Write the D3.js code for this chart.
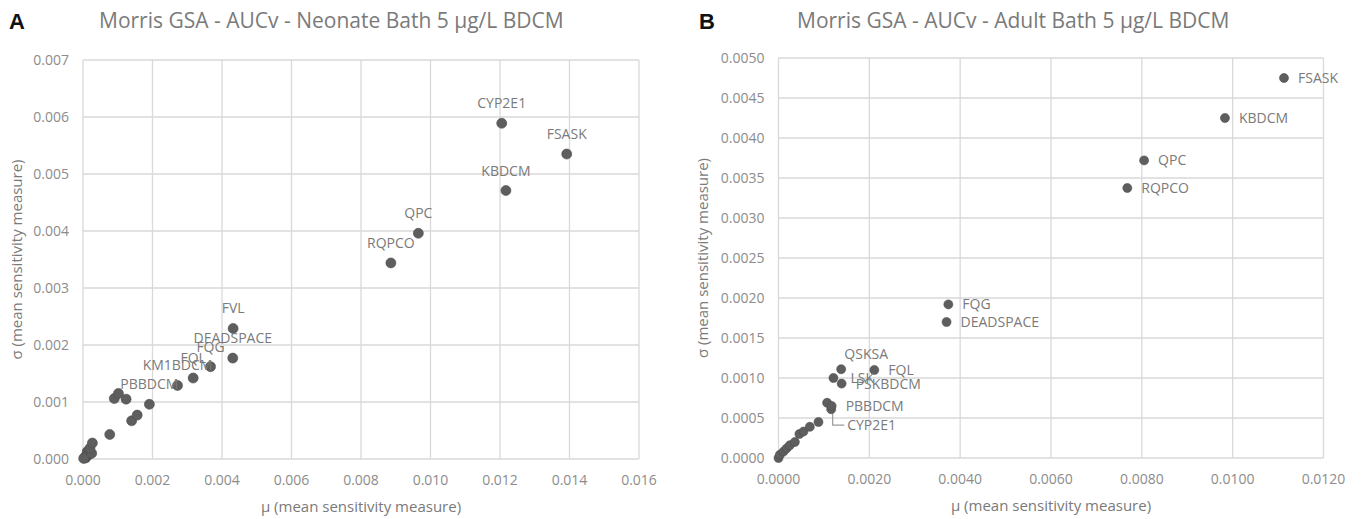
<!DOCTYPE html>
<html>
<head>
<meta charset="utf-8">
<script src="https://cdn.jsdelivr.net/npm/d3@7"></script>
<style>
  body { margin: 0; background: #fff; }
  text { font-family: "Open Sans", sans-serif; }
</style>
</head>
<body>
<svg id="chart" width="1366" height="519"></svg>
<script>
// Panel A - neonate
var namesA = ["CYP2E1", "FSASK", "KBDCM", "QPC", "RQPCO", "FVL", "DEADSPACE", "FQG", "FQL", "KM1BDCM", "PBBDCM",
    "", "", "", "", "", "", "", "", "", "", "", "", "", "", "", ""];
var muA = [0.01205, 0.01392, 0.01217, 0.00965, 0.00886, 0.00432, 0.00431, 0.00367, 0.00317, 0.00272, 0.00191,
    0.00102, 0.00090, 0.00124, 0.00156, 0.00140, 0.00077, 0.00027, 0.00020, 0.00025,
    0.00002, 0.00005, 0.00010, 0.00015, 0.00008, 0.00018, 0.00012];
var sigmaA = [0.00589, 0.00535, 0.00471, 0.00396, 0.00344, 0.00229, 0.00177, 0.00162, 0.00142, 0.00129, 0.00096,
    0.00115, 0.00106, 0.00105, 0.00077, 0.00067, 0.00043, 0.00028, 0.00019, 0.00010,
    0.00001, 0.00003, 0.00006, 0.00010, 0.00002, 0.00008, 0.00013];
var xTicksA = [0, 0.002, 0.004, 0.006, 0.008, 0.010, 0.012, 0.014, 0.016];
var yTicksA = [0, 0.001, 0.002, 0.003, 0.004, 0.005, 0.006, 0.007];

// Panel B - adult
var namesB = ["FSASK", "KBDCM", "QPC", "RQPCO", "FQG", "DEADSPACE", "QSKSA", "FQL", "LSK", "PSKBDCM", "PBBDCM", "CYP2E1",
    "", "", "", "", "", "", "", "", "", "", ""];
var muB = [0.01113, 0.00983, 0.00805, 0.00768, 0.00374, 0.00370, 0.00138, 0.00211, 0.00121, 0.00139, 0.00117, 0.00116,
    0.00107, 0.00088, 0.00069, 0.00055, 0.00046, 0.00036, 0.00025, 0.00018, 0.00011, 0.00003, 0.00000];
var sigmaB = [0.00475, 0.00425, 0.00372, 0.003375, 0.00192, 0.00170, 0.00111, 0.00110, 0.00100, 0.00093, 0.00065, 0.00061,
    0.00069, 0.00045, 0.00039, 0.00033, 0.00030, 0.00020, 0.00016, 0.00012, 0.00008, 0.00004, 0.00000];
var xTicksB = [0, 0.002, 0.004, 0.006, 0.008, 0.010, 0.012];
var yTicksB = [0, 0.0005, 0.001, 0.0015, 0.002, 0.0025, 0.003, 0.0035, 0.004, 0.0045, 0.005];

var svg = d3.select("#chart");
var grid = "#d9d9d9", tickCol = "#8c8c8c", labCol = "#7a7a7a", dotCol = "#5e5e5e";

function panel(o) {
    var x = d3.scaleLinear().domain([0, o.xMax]).range([o.left, o.right]);
    var y = d3.scaleLinear().domain([0, o.yMax]).range([o.bottom, o.top]);
    var g = svg.append("g");

    g.append("text").attr("x", o.letterX).attr("y", 29)
        .style("font-family", "'Liberation Sans', Arial, sans-serif")
        .style("font-weight", "bold").style("font-size", "22px").attr("fill", "#111")
        .text(o.letter);
    g.append("text").attr("x", o.titleX).attr("y", 28)
        .style("font-size", "21px").attr("fill", "#7a7a7a").text(o.title);

    // gridlines
    g.selectAll(".gx").data(o.xTicks).enter().append("line")
        .attr("x1", d => x(d)).attr("x2", d => x(d))
        .attr("y1", o.top).attr("y2", o.bottom)
        .attr("stroke", grid).attr("stroke-width", 1.3);
    g.selectAll(".gy").data(o.yTicks).enter().append("line")
        .attr("x1", o.left).attr("x2", o.right)
        .attr("y1", d => y(d)).attr("y2", d => y(d))
        .attr("stroke", grid).attr("stroke-width", 1.3);

    // tick labels
    g.selectAll(".tx").data(o.xTicks).enter().append("text")
        .attr("x", d => x(d)).attr("y", o.bottom + 26)
        .attr("text-anchor", "middle").style("font-size", "14px").attr("fill", tickCol)
        .text(d => d.toFixed(o.digits));
    g.selectAll(".ty").data(o.yTicks).enter().append("text")
        .attr("x", o.left - 14).attr("y", d => y(d) + 5)
        .attr("text-anchor", "end").style("font-size", "14px").attr("fill", tickCol)
        .text(d => d.toFixed(o.digits));

    // axis titles
    g.append("text").attr("x", (o.left + o.right) / 2).attr("y", o.bottom + 53)
        .attr("text-anchor", "middle").style("font-size", "15px").attr("fill", labCol)
        .text("μ (mean sensitivity measure)");
    g.append("text")
        .attr("transform", "translate(" + o.yTitleX + "," + (o.top + o.bottom) / 2 + ") rotate(-90)")
        .attr("text-anchor", "middle").style("font-size", "15px").attr("fill", labCol)
        .text("σ (mean sensitivity measure)");

    var pts = o.mu.map((m, i) => ({ mu: m, sigma: o.sigma[i], name: o.names[i] }));

    // leader lines
    pts.filter(d => o.leader[d.name]).forEach(function(d) {
        var cx = x(d.mu), cy = y(d.sigma), L = o.leader[d.name];
        g.append("path")
            .attr("d", "M" + (cx + 1.5) + "," + (cy + 4) + "V" + (cy + L.dy) + "H" + (cx + L.dx - 3))
            .attr("fill", "none").attr("stroke", "#9a9a9a").attr("stroke-width", 1.2);
    });

    g.selectAll("circle").data(pts.slice().reverse()).enter().append("circle")
        .attr("cx", d => x(d.mu)).attr("cy", d => y(d.sigma)).attr("r", o.r)
        .attr("fill", dotCol).attr("stroke", "#4e4e4e").attr("stroke-width", 0.6);

    g.selectAll(".lab").data(pts.filter(d => d.name)).enter().append("text")
        .attr("x", d => x(d.mu) + o.place(d.name).dx)
        .attr("y", d => y(d.sigma) + o.place(d.name).dy + 5)
        .attr("text-anchor", d => o.place(d.name).anchor)
        .style("font-size", "14px").attr("fill", labCol)
        .text(d => d.name);
}

panel({
    letter: "A", letterX: 9, title: "Morris GSA - AUCv - Neonate Bath 5 μg/L BDCM", titleX: 99,
    names: namesA, mu: muA, sigma: sigmaA, xTicks: xTicksA, yTicks: yTicksA,
    xMax: 0.016, yMax: 0.007, left: 83, right: 639, top: 60, bottom: 459, digits: 3,
    yTitleX: 22, r: 5, leader: {},
    place: function(n) { return { dx: 0, dy: -20, anchor: "middle" }; }
});

var placeB = {
    QSKSA: { dx: 25, dy: -15, anchor: "middle" },
    LSK: { dx: 17, dy: 0, anchor: "start" },
    CYP2E1: { dx: 16, dy: 16, anchor: "start" }
};
panel({
    letter: "B", letterX: 699, title: "Morris GSA - AUCv - Adult Bath 5 μg/L BDCM", titleX: 797,
    names: namesB, mu: muB, sigma: sigmaB, xTicks: xTicksB, yTicks: yTicksB,
    xMax: 0.012, yMax: 0.005, left: 778.5, right: 1323.5, top: 58, bottom: 458, digits: 4,
    yTitleX: 708, r: 4.5, leader: { CYP2E1: { dx: 16, dy: 16 } },
    place: function(n) { return placeB[n] || { dx: 14, dy: 0, anchor: "start" }; }
});
</script>
</body>
</html>
